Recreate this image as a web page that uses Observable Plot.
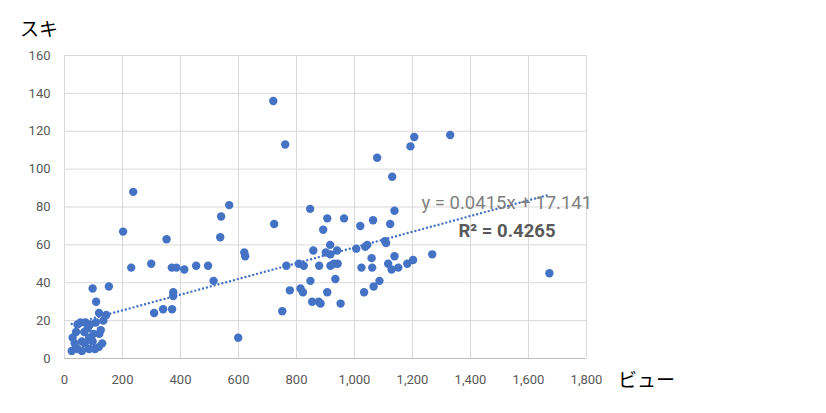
<!DOCTYPE html>
<html><head><meta charset="utf-8">
<script src="https://cdn.jsdelivr.net/npm/d3@7"></script>
<script src="https://cdn.jsdelivr.net/npm/@observablehq/plot@0.6"></script>
<style>
body{margin:0;background:#fff;font-family:"Noto Sans CJK JP",Roboto,sans-serif;}
#wrap{position:relative;width:826px;height:413px;}
#wrap svg{position:absolute;left:0;top:0;}
.ttl{position:absolute;font-size:19px;color:#000;font-family:"Noto Sans CJK JP",sans-serif;line-height:1;}
#ytitle{left:20px;top:18px;}
#xtitle{left:618px;top:369px;}
</style></head><body><div id="wrap"></div>
<script>
const views = [25,45,60,85,105,28,35,60,97,130,118,40,68,85,120,80,125,45,55,72,88,108,134,100,70,
  97,153,109,119,144,
  202,237,230,299,309,340,352,370,375,375,371,386,413,454,495,514,537,540,568,599,620,623,
  720,723,751,761,765,777,808,814,822,825,847,848,854,858,877,878,883,892,901,906,906,916,917,917,929,934,940,942,952,964,
  1006,1020,1024,1033,1037,1044,1059,1061,1064,1066,1078,1086,1105,1109,1116,1123,1128,1130,1138,1138,1151,1182,1193,1202,1206,1268,1330,1672];
const likes = [4,5,4,5,5,11,8,9,9,8,6,14,14,11,13,16,15,18,19,19,18,19,20,13,8,
  37,38,30,24,23,
  67,88,48,50,24,26,63,48,35,33,26,48,47,49,49,41,64,75,81,11,56,54,
  136,71,25,113,49,36,50,37,35,49,79,41,30,57,30,49,29,68,56,74,35,60,55,49,50,42,57,50,29,74,
  58,70,48,35,59,60,53,48,73,38,106,41,62,61,50,71,47,96,78,54,48,50,112,52,117,55,118,45];
const slope = 0.0415, intercept = 17.141, r2 = 0.4265;
const xTicks = d3.range(0, 1801, 200);
const yTicks = d3.range(0, 161, 20);
const yTitle = "スキ", xTitle = "ビュー";

const pts = views.map((v, i) => ({x: v, y: likes[i]}));
const trend = d3.extent(views).map(x => ({x, y: slope * x + intercept}));
const eqText = `y = ${slope}x + ${intercept}`;
const r2Text = `R² = ${r2}`;

const plot = Plot.plot({
  width: 826, height: 413,
  marginLeft: 64, marginRight: 240, marginTop: 55, marginBottom: 55,
  x: {domain: [0, 1800]},
  y: {domain: [0, 160]},
  style: {fontFamily: "Roboto, sans-serif", fontSize: "13px", color: "#595959", background: "#fff", overflow: "visible"},
  marks: [
    Plot.gridX(xTicks, {stroke: "#d9d9d9", strokeOpacity: 1}),
    Plot.gridY(yTicks, {stroke: "#d9d9d9", strokeOpacity: 1}),
    Plot.ruleY([0], {stroke: "#bfbfbf", strokeWidth: 1.2}),
    Plot.axisX({ticks: xTicks, tickSize: 0, tickPadding: 16, tickFormat: d3.format(","), label: null}),
    Plot.axisY({ticks: yTicks, tickSize: 0, tickPadding: 14, label: null}),
    Plot.line(trend, {x: "x", y: "y", stroke: "#4472C4", strokeWidth: 2.4, strokeDasharray: "0 4", strokeLinecap: "round"}),
    Plot.dot(pts, {x: "x", y: "y", r: 4.2, fill: "#4472C4", stroke: "none"}),
    Plot.text([eqText], {text: d => d, frameAnchor: "top-left", dx: 357, dy: 140, textAnchor: "start", fontSize: 18.5, fill: "#7f7f7f"}),
    Plot.text([r2Text], {text: d => d, frameAnchor: "top-left", dx: 394, dy: 168, textAnchor: "start", fontSize: 18.5, fontWeight: "bold", fill: "#595959"})
  ]
});
const wrap = document.getElementById("wrap");
wrap.appendChild(plot);
const yt = document.createElement("div"); yt.className = "ttl"; yt.id = "ytitle"; yt.textContent = yTitle; wrap.appendChild(yt);
const xt = document.createElement("div"); xt.className = "ttl"; xt.id = "xtitle"; xt.textContent = xTitle; wrap.appendChild(xt);
</script></body></html>
